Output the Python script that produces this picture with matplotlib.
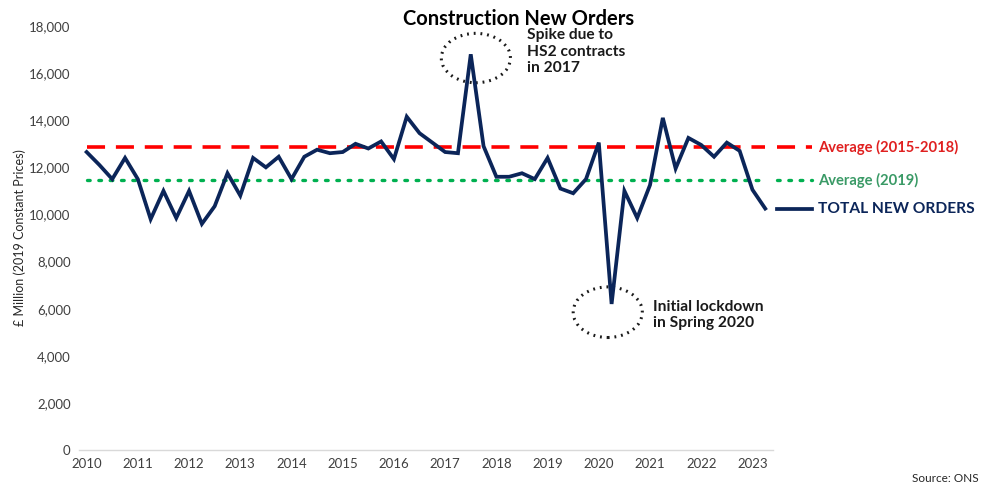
import matplotlib
matplotlib.use('Agg')
import matplotlib.pyplot as plt
from matplotlib.patches import Ellipse
import matplotlib.transforms as mtransforms
import numpy as np

plt.rcParams['font.family'] = ['Lato', 'DejaVu Sans']

# quarterly new orders, 2010 Q1 .. 2023 Q2 (GBP million, 2019 prices)
orders = [12650, 12100, 11500, 12400, 11500, 9800, 11000, 9850,
          11000, 9600, 10350, 11750, 10800, 12400, 12000, 12450,
          11500, 12450, 12750, 12600, 12650, 13000, 12800, 13100,
          12350, 14150, 13450, 13050, 12650, 12600, 16800, 12900,
          11600, 11600, 11750, 11500, 12400, 11100, 10900, 11500,
          13050, 6200, 11000, 9850, 11250, 14100, 11950, 13250,
          12950, 12450, 13050, 12700, 11050, 10250]
avg_2015_2018 = 12850
avg_2019 = 11450
years = list(range(2010, 2024))

navy = '#0B2559'
red = '#FF0000'
green = '#00B050'
dash = (0, (5, 3))
dots = (0, (0.8, 2.6))

q = np.arange(len(orders))

fig = plt.figure(figsize=(9.82, 4.91), dpi=100)
ax = fig.add_axes([0.0804, 0.0835, 0.7067, 0.8635])

ax.plot(q, [avg_2015_2018] * len(q), color=red, lw=2.6, linestyle=dash)
ax.plot(q, [avg_2019] * len(q), color=green, lw=2.4, linestyle=dots, dash_capstyle='round')
ax.plot(q, orders, color=navy, lw=2.7, solid_joinstyle='miter')

ax.set_xlim(-0.6, 53.6)
ax.set_ylim(0, 18000)
ax.set_yticks(range(0, 18001, 2000))
ax.yaxis.set_major_formatter(matplotlib.ticker.FuncFormatter(lambda v, p: f'{int(v):,}'))
ax.set_xticks(q[::4])
ax.set_xticklabels([str(y) for y in years])
ax.tick_params(length=0, labelsize=9.5, labelcolor='#404040', pad=6)
for s in ['top', 'right', 'left']:
    ax.spines[s].set_visible(False)
ax.spines['bottom'].set_color('#D9D9D9')
ax.spines['bottom'].set_linewidth(1)

ax.set_ylabel('£ Million (2019 Constant Prices)', fontsize=9, color='#262626', labelpad=2)

# legend on the right, level with each series end
tr = mtransforms.blended_transform_factory(ax.transAxes, ax.transData)
legend = [(avg_2015_2018, red, dash, 2.6, 'Average (2015-2018)', '#E02020'),
          (avg_2019, green, dots, 2.4, 'Average (2019)', '#3A9A66'),
          (orders[-1], navy, '-', 2.7, 'TOTAL NEW ORDERS', navy)]
for yv, c, ls, lw, lab, tc in legend:
    ax.plot([1.006, 1.056], [yv, yv], transform=tr, color=c, lw=lw, linestyle=ls,
            clip_on=False, dash_capstyle='round' if c == green else 'butt')
    ax.text(1.065, yv, lab, transform=tr, color=tc, fontsize=10.6 if c != navy else 11.2,
            fontweight='bold', va='center', ha='left')

# callouts
ax.add_patch(Ellipse((30.4, 16640), 5.4, 2100, fill=False, edgecolor='#1a1a1a',
                     linestyle=(0, (0.6, 1.6)), lw=2.2, clip_on=False))
ax.add_patch(Ellipse((40.7, 5850), 5.4, 2150, fill=False, edgecolor='#1a1a1a',
                     linestyle=(0, (0.6, 1.6)), lw=2.2, clip_on=False))
ax.text(34.4, 17900, 'Spike due to\nHS2 contracts\nin 2017', fontsize=11.2, fontweight='bold',
        color='#1a1a1a', va='top', ha='left', linespacing=1.2)
ax.text(44.2, 6350, 'Initial lockdown\nin Spring 2020', fontsize=11.2, fontweight='bold',
        color='#1a1a1a', va='top', ha='left', linespacing=1.15)

fig.text(0.528, 0.962, 'Construction New Orders', fontsize=14.5, fontweight='bold',
         ha='center', va='center', color='#000000')
fig.text(0.929, 0.014, 'Source: ONS', fontsize=8.5, color='#262626', ha='left', va='bottom')

fig.savefig('out.png', dpi=100)
